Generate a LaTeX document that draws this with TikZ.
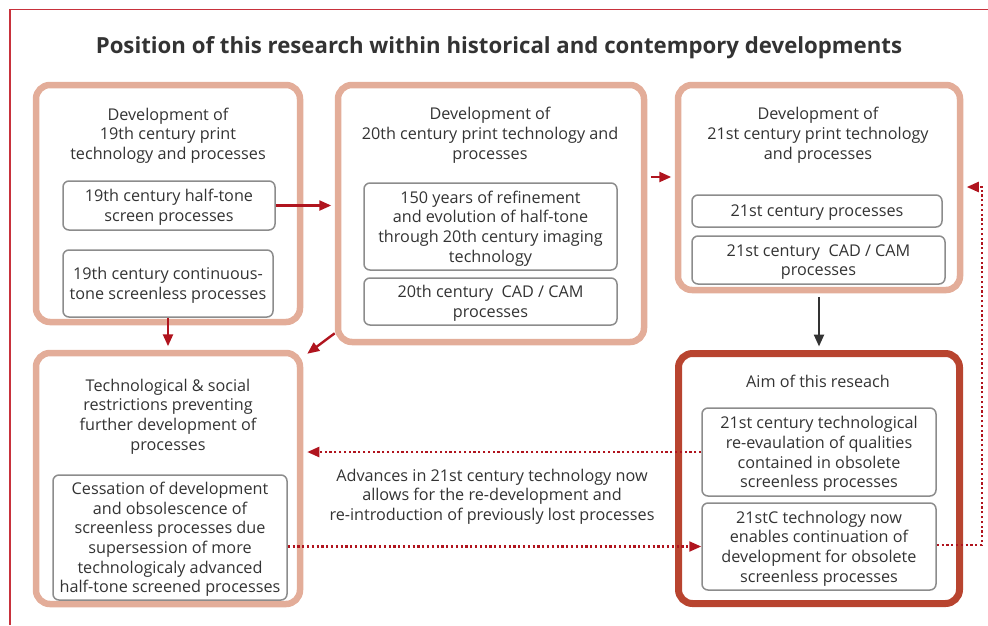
\documentclass[tikz,border=0pt]{standalone}
\usepackage{fontspec}
\setmainfont{Open Sans}
\usetikzlibrary{arrows.meta,calc}
\definecolor{txt}{HTML}{333333}
\definecolor{light}{HTML}{E3AD99}
\definecolor{aimred}{HTML}{B8442F}
\definecolor{arr}{HTML}{B0141E}
\definecolor{frame}{HTML}{C8323C}
\definecolor{inner}{HTML}{8C8C8C}
\begin{document}
\begin{tikzpicture}[x=1pt,y=-1pt,
  outerbox/.style={draw=light,line width=6.5pt,rounded corners=14pt,minimum width=#1,inner sep=0pt},
  innerbox/.style={draw=inner,line width=1.5pt,rounded corners=6pt,inner sep=0pt,align=center,
     font=\fontsize{16.2}{19.7}\selectfont,text=txt,text depth=0pt},
  lbl/.style={align=center,font=\fontsize{16.2}{19.7}\selectfont,text=txt,inner sep=0pt},
  redarrow/.style={draw=arr,line width=2.4pt,-{Triangle[length=12pt,width=10pt]}},
  blackarrow/.style={draw=txt,line width=2.4pt,-{Triangle[length=12pt,width=10pt]}},
  dotarrow/.style={draw=arr,line width=2.2pt,dash pattern=on 2.2pt off 2.6pt,-{Triangle[length=12pt,width=10pt]}}
]
\useasboundingbox (0,0) rectangle (988,625);
% frame
\draw[frame,line width=1.2pt] (10,625) -- (10,9.5) -- (988,9.5);
% title
\node[font=\fontsize{22.2}{26}\selectfont\bfseries,text=txt,inner sep=0pt] (title) at (499,48) {Position of this research within historical and contempory developments};

% outer boxes
\node[outerbox=264pt,minimum height=237pt] (A) at (168,203.5) {};
\node[outerbox=306pt,minimum height=257pt] (B) at (491,213.5) {};
\node[outerbox=282pt,minimum height=205pt] (C) at (819,187.5) {};
\node[outerbox=264pt,minimum height=251pt] (D) at (168,478.5) {};
\node[outerbox=281pt,minimum height=250pt,draw=aimred,line width=7pt] (E) at (819,478.5) {};

% headers
\node[lbl,anchor=north] (Ah) at (168,107.5) {Development of\\19th century print\\technology and processes};
\node[lbl,anchor=north] (Bh) at (490,107) {Development of\\20th century print technology and\\processes};
\node[lbl,anchor=north] (Ch) at (818,107) {Development of\\21st century print technology\\and processes};
\node[lbl,anchor=north] (Dh) at (168,378.5) {Technological \& social\\restrictions preventing\\further development of\\processes};
\node[lbl,anchor=north] (Eh) at (818,374.5) {Aim of this reseach};

% inner boxes
\node[innerbox,minimum width=212pt,minimum height=49pt] (A1) at (169,205.5) {19th century half-tone\\screen processes};
\node[innerbox,minimum width=210pt,minimum height=67pt] (A2) at (168,283.5) {19th century continuous-\\tone screenless processes};
\node[innerbox,minimum width=253pt,minimum height=87pt] (B1) at (490.5,226.5) {150 years of refinement\\and evolution of half-tone\\through 20th century imaging\\technology};
\node[innerbox,minimum width=253pt,minimum height=47pt] (B2) at (490.5,301.5) {20th century\ \ CAD / CAM\\processes};
\node[innerbox,minimum width=250pt,minimum height=32pt] (C1) at (817,211) {21st century processes};
\node[innerbox,minimum width=253pt,minimum height=48pt] (C2) at (818.5,260) {21st century\ \ CAD / CAM\\processes};
\node[innerbox,minimum width=234pt,minimum height=88pt] (E1) at (819,452) {21st century technological\\re-evaulation of qualities\\contained in obsolete\\screenless processes};
\node[innerbox,minimum width=234pt,minimum height=87pt] (E2) at (819,546.5) {21stC technology now\\enables continuation of\\development for obsolete\\screenless processes};
\node[innerbox,minimum width=234pt,minimum height=125pt] (D1) at (170,537.5) {Cessation of development\\and obsolescence of\\screenless processes due\\supersession of more\\technologicaly advanced\\half-tone screened processes};

% middle label
\node[lbl] (mid) at (492,496.5) {Advances in 21st century technology now\\allows for the re-development and\\re-introduction of previously lost processes};

% arrows
\draw[redarrow] (A1.east) -- ($(A1.east -| B.west)+(-3.5,0)$);
\draw[redarrow] ($(B.east)+(3.5,-36.5)$) -- ($(C.west)+(-3.5,-10.5)$);
\draw[redarrow] (A2.south) -- ($(A2.south |- D.north)+(0,-3.5)$);
\draw[redarrow] ($(B.south west)+(0,-12)$) -- ($(D.north east)+(4,4)$);
\draw[blackarrow] ($(C.south)+(0,3.5)$) -- ($(E.north)+(0,-3.5)$);
\draw[dotarrow] (E1.west) -- ($(E1.west -| D.east)+(4,0)$);
\draw[dotarrow] (D1.east |- E2.west) -- (E2.west);
\coordinate (r1) at (982,545);
\coordinate (r2) at (982,187);
\draw[dotarrow] (E2.east |- r1) -- (r1) -- (r2) -- ($(C.east |- r2)+(3.5,0)$);
\end{tikzpicture}
\end{document}
